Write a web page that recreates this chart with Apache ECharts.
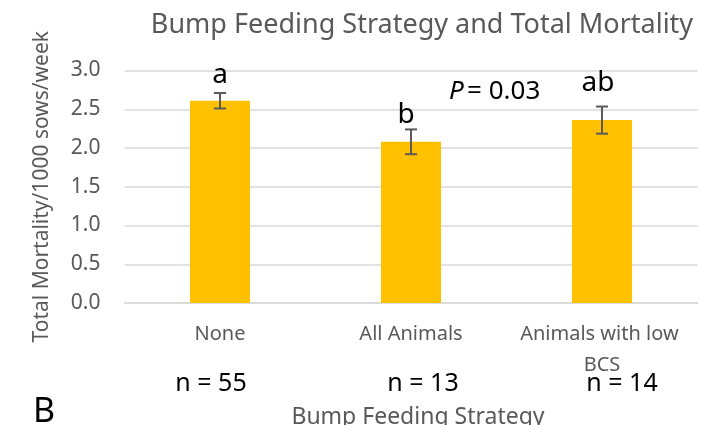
<!DOCTYPE html>
<html>
<head>
<meta charset="utf-8">
<script src="https://cdn.jsdelivr.net/npm/echarts@6/dist/echarts.min.js"></script>
<style>html,body{margin:0;padding:0;background:#fff}#c{width:701px;height:425px}</style>
</head>
<body>
<div id="c"></div>
<script>
const categories = ['None', 'All Animals', 'Animals with low BCS'];
const means = [2.61, 2.08, 2.36];
const errors = [0.10, 0.16, 0.175];
const letters = ['a', 'b', 'ab'];
const nLabels = ['n = 55', 'n = 13', 'n = 14'];
const titleText = 'Bump Feeding Strategy and Total Mortality';
const pText = '= 0.03';

// style-only offsets for the letter annotations (dx, gap above error bar)
const letterStyle = [[0, 3.5], [-5, 0.5], [-4, 9.5]];

const FONT = 'Noto Sans';
const GRAY = '#595959';

const chart = echarts.init(document.getElementById('c'), null, {renderer: 'canvas'});
chart.setOption({
  animation: false,
  textStyle: {fontFamily: FONT},
  title: {
    text: titleText, left: 417, top: 7, textAlign: 'center',
    textStyle: {fontFamily: FONT, fontSize: 27, fontWeight: 'normal', color: GRAY}
  },
  grid: {left: 124.5, right: 3.5, top: 70.5, bottom: 122, containLabel: false, outerBoundsMode: 'none'},
  xAxis: [{
    type: 'category', data: categories,
    axisLine: {show: true, lineStyle: {color: '#d9d9d9', width: 1.5}},
    axisTick: {show: false},
    axisLabel: {interval: 0, margin: 16, color: GRAY, fontSize: 20, lineHeight: 31,
      width: 180, overflow: 'break', fontFamily: FONT},
    name: 'Bump Feeding Strategy', nameLocation: 'middle', nameGap: 103,
    nameTextStyle: {color: GRAY, fontSize: 23, fontFamily: FONT, lineHeight: 23, padding: [0, 0, 0, 14]}
  }, {
    type: 'category', data: nLabels, position: 'bottom', gridIndex: 0,
    axisLine: {show: false}, axisTick: {show: false},
    axisLabel: {interval: 0, margin: 66, color: '#000', fontSize: 25, lineHeight: 30, fontFamily: FONT,
      formatter: (v, i) => '{n' + i + '|' + v + '}',
      rich: {
        n0: {color: '#000', fontSize: 25, fontFamily: FONT, padding: [0, 18, 0, 0]},
        n1: {color: '#000', fontSize: 25, fontFamily: FONT, padding: [0, 0, 0, 24]},
        n2: {color: '#000', fontSize: 25, fontFamily: FONT, padding: [0, 0, 0, 40]}
      }
    }
  }],
  yAxis: {
    type: 'value', min: 0, max: 3, interval: 0.5,
    axisLine: {show: false}, axisTick: {show: false},
    splitLine: {lineStyle: {color: '#d9d9d9', width: 1.5}},
    axisLabel: {margin: 24, color: GRAY, fontSize: 21, fontFamily: FONT, formatter: v => v.toFixed(1)},
    name: 'Total Mortality/1000 sows/week', nameLocation: 'middle', nameGap: 66,
    nameTextStyle: {color: GRAY, fontSize: 21, fontFamily: FONT, lineHeight: 21, padding: [0, 0, 6, 0]}
  },
  series: [{
    type: 'bar', data: means, barWidth: 60, xAxisIndex: 0,
    itemStyle: {color: '#FFC000'}
  }, {
    type: 'custom', xAxisIndex: 0,
    data: means.map((m, i) => [i, m, errors[i]]),
    renderItem: function (params, api) {
      const i = api.value(0), m = api.value(1), e = api.value(2);
      const top = api.coord([i, m + e]);
      const bot = api.coord([i, m - e]);
      const x = top[0], half = 6;
      const st = {stroke: '#5a5a5a', lineWidth: 2};
      const ls = letterStyle[params.dataIndex];
      return {
        type: 'group',
        children: [
          {type: 'line', shape: {x1: x, y1: top[1], x2: x, y2: bot[1]}, style: st},
          {type: 'line', shape: {x1: x - half, y1: top[1], x2: x + half, y2: top[1]}, style: st},
          {type: 'line', shape: {x1: x - half, y1: bot[1], x2: x + half, y2: bot[1]}, style: st},
          {type: 'text', x: x + ls[0], y: top[1] - ls[1],
            style: {text: letters[params.dataIndex], fill: '#000', font: '28px "Noto Sans"',
              align: 'center', verticalAlign: 'bottom'}}
        ]
      };
    },
    z: 3
  }],
  graphic: [{
    type: 'text', left: 449, top: 79,
    style: {
      text: '{p|P} {r|' + pText + '}',
      rich: {
        p: {fontStyle: 'italic', fontSize: 26, fontFamily: FONT, fill: '#000'},
        r: {fontSize: 26, fontFamily: FONT, fill: '#000'}
      }
    }
  }, {
    type: 'text', left: 33, top: 395,
    style: {text: 'B', font: '34px "Noto Sans"', fill: '#000'}
  }]
});
</script>
</body>
</html>
